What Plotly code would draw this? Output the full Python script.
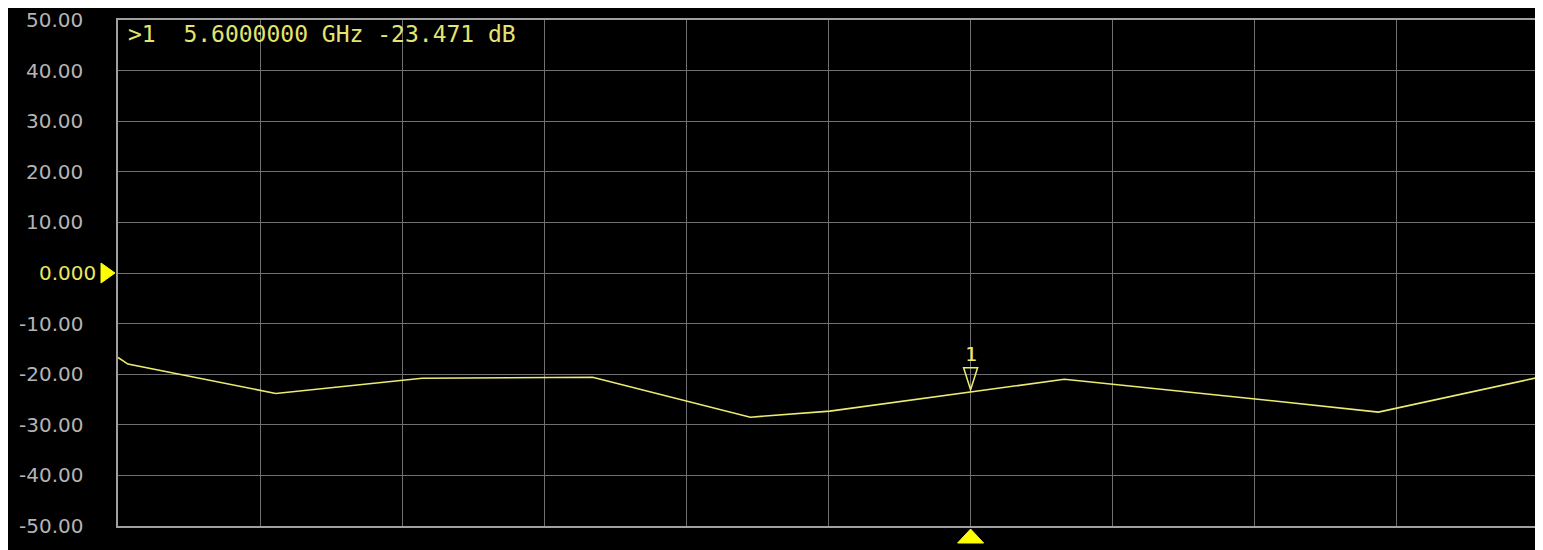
import plotly.graph_objects as go

# ---- data ----
freq_ghz = [5.000, 5.007, 5.111, 5.214, 5.334, 5.445, 5.501, 5.600, 5.666, 5.797, 5.887, 6.000]
s_db = [-16.7, -18.0, -23.8, -20.8, -20.6, -28.5, -27.3, -23.471, -21.0, -24.8, -27.5, -20.6]
y_tick_vals = [50, 40, 30, 20, 10, 0, -10, -20, -30, -40, -50]
y_tick_text = ["50.00", "40.00", "30.00", "20.00", "10.00", "0.000",
               "-10.00", "-20.00", "-30.00", "-40.00", "-50.00"]
marker_freq = 5.6
marker_db = -23.471
marker_label = ">1  5.6000000 GHz -23.471 dB"

TRACE = "#ecec72"
YEL = "#ffff00"
GRID = "#707070"
LABEL = "#b4b4b4"

fig = go.Figure()
fig.add_trace(go.Scatter(x=freq_ghz, y=s_db, mode="lines",
                         line=dict(color=TRACE, width=1.6), hoverinfo="skip"))

fig.update_layout(
    width=1543, height=550,
    paper_bgcolor="#000000", plot_bgcolor="#000000",
    margin=dict(l=110, r=10, t=12, b=32),
    showlegend=False,
    xaxis=dict(range=[5.0, 6.0], dtick=0.1, tick0=5.0, showticklabels=False,
               showgrid=True, gridcolor=GRID, gridwidth=1, zeroline=False,
               showline=True, linecolor="#a0a0a0", linewidth=2, mirror=True, ticks=""),
    yaxis=dict(range=[-50, 50], dtick=10, tick0=-50, showticklabels=False,
               showgrid=True, gridcolor=GRID, gridwidth=1, zeroline=False,
               showline=True, linecolor="#a0a0a0", linewidth=2, mirror=True, ticks=""),
)

anns = []
for v, t in zip(y_tick_vals, y_tick_text):
    is_ref = (v == 0)
    anns.append(dict(xref="paper", yref="y", x=0, y=v, text=t, showarrow=False,
                     xanchor="right", yanchor="middle",
                     xshift=-20 if is_ref else -33,
                     font=dict(family="DejaVu Sans", size=20,
                               color="#e8e860" if is_ref else LABEL)))
anns.append(dict(xref="paper", yref="paper", x=0, y=1, text=marker_label,
                 showarrow=False, xanchor="left", yanchor="top", xshift=8, yshift=1,
                 font=dict(family="DejaVu Sans Mono", size=23, color="#e4e470")))
anns.append(dict(xref="x", yref="y", x=marker_freq, y=marker_db, text="1",
                 showarrow=False, xanchor="center", yanchor="bottom", yshift=24,
                 font=dict(family="DejaVu Sans Mono", size=20, color=TRACE)))
fig.update_layout(annotations=anns)

shapes = [
    # reference level marker on the left
    dict(type="path", xref="paper", yref="y", xsizemode="pixel", ysizemode="pixel",
         xanchor=0, yanchor=0, path="M -17,-10 L -3,0 L -17,10 Z",
         fillcolor=YEL, line=dict(color=YEL, width=1)),
    # reference level marker on the right
    dict(type="path", xref="paper", yref="y", xsizemode="pixel", ysizemode="pixel",
         xanchor=1, yanchor=0, path="M 2,0 L 12,-9 L 12,9 Z",
         fillcolor=YEL, line=dict(color=YEL, width=1)),
    # marker position on bottom axis
    dict(type="path", xref="x", yref="paper", xsizemode="pixel", ysizemode="pixel",
         xanchor=marker_freq, yanchor=0, path="M -13,-17 L 0,-3 L 13,-17 Z",
         fillcolor=YEL, line=dict(color=YEL, width=1)),
    # marker triangle on the trace
    dict(type="path", xref="x", yref="y", xsizemode="pixel", ysizemode="pixel",
         xanchor=marker_freq, yanchor=marker_db, path="M -7,24 L 7,24 L 0,2 Z",
         fillcolor="rgba(0,0,0,0)", line=dict(color=TRACE, width=1.5)),
]
fig.update_layout(shapes=shapes)

fig.write_html("out.html")
